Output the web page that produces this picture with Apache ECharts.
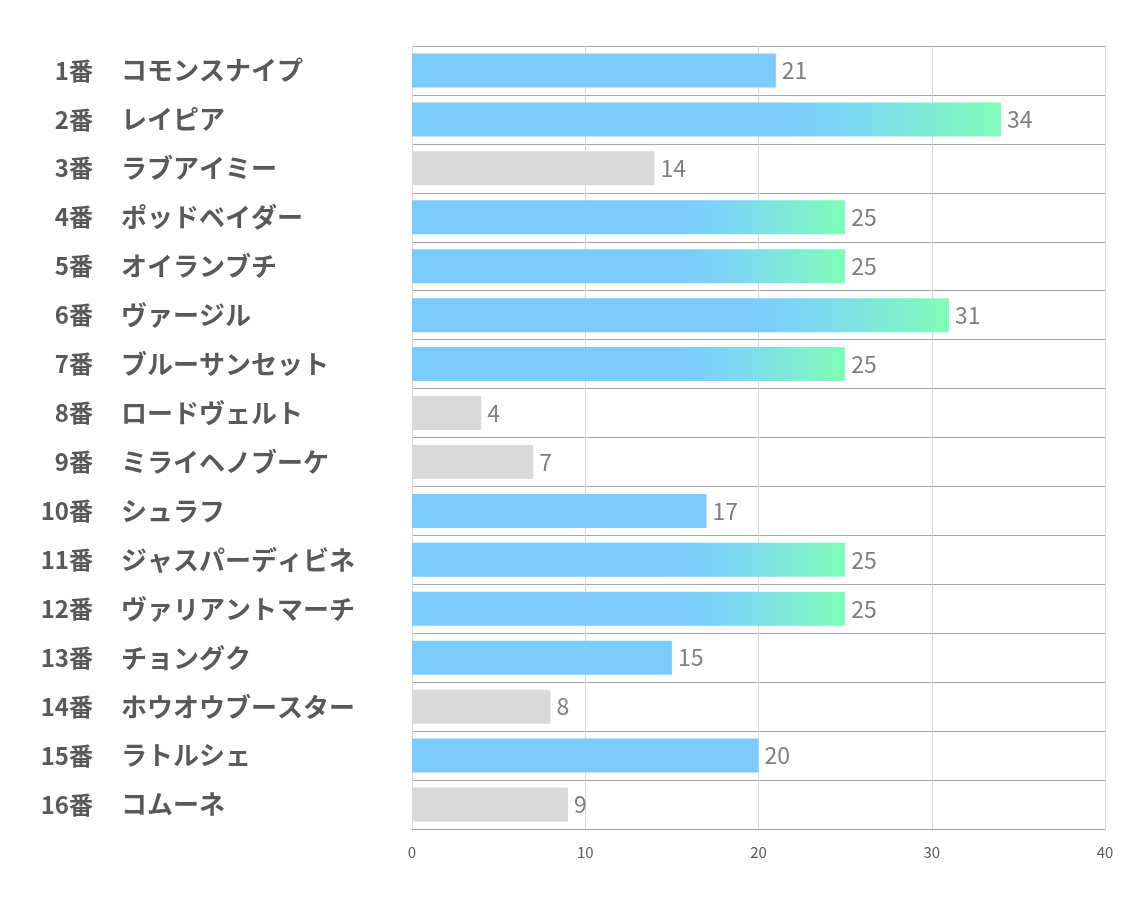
<!DOCTYPE html>
<html>
<head>
<meta charset="utf-8">
<script src="https://cdn.jsdelivr.net/npm/echarts@6/dist/echarts.min.js"></script>
<style>
html,body{margin:0;padding:0;background:#fff;}
#main{width:1134px;height:907px;}
</style>
</head>
<body>
<div id="main"></div>
<script>
const gateNumbers = ['1番','2番','3番','4番','5番','6番','7番','8番','9番','10番','11番','12番','13番','14番','15番','16番'];
const horseNames = ['コモンスナイプ','レイピア','ラブアイミー','ポッドベイダー','オイランブチ','ヴァージル','ブルーサンセット','ロードヴェルト','ミライヘノブーケ','シュラフ','ジャスパーディビネ','ヴァリアントマーチ','チョングク','ホウオウブースター','ラトルシェ','コムーネ'];
const scores = [21,34,14,25,25,31,25,4,7,17,25,25,15,8,20,9];
// group: 'top' = highlighted, 'mid' = normal, 'low' = excluded
const groups = ['mid','top','low','top','top','top','top','low','low','mid','top','top','mid','low','mid','low'];
const xTicks = [0,10,20,30,40];

const chart = echarts.init(document.getElementById('main'), null, {renderer:'canvas'});
const BLUE = '#7BCBFD';
const GRAY = '#D9D9D9';
function colorFor(g){
  if (g === 'low') return GRAY;
  if (g === 'top') return new echarts.graphic.LinearGradient(0,0,1,0,[
    {offset:0,color:BLUE},{offset:0.62,color:BLUE},{offset:0.76,color:'#7DD9F0'},{offset:1,color:'#80FDB9'}]);
  return BLUE;
}
const data = scores.map((v,i)=>({value:v,itemStyle:{color:colorFor(groups[i])}}));
const FONT = '"Noto Sans CJK JP", "Noto Sans", sans-serif';

chart.setOption({
  animation:false,
  backgroundColor:'#fff',
  grid:{left:412,right:29,top:46,bottom:78,containLabel:false},
  xAxis:{
    type:'value',min:xTicks[0],max:xTicks[xTicks.length-1],interval:10,
    axisLine:{show:true,lineStyle:{color:'#A6A6A6',width:1}},axisTick:{show:false},
    splitLine:{show:true,lineStyle:{color:'#D9D9D9',width:1}},
    axisLabel:{color:'#595959',fontSize:15,margin:16,fontFamily:FONT}
  },
  yAxis:[{
    type:'category',inverse:true,data:horseNames,boundaryGap:true,
    axisLine:{show:false},axisTick:{show:false},
    splitLine:{show:true,lineStyle:{color:'#A6A6A6',width:1}},
    axisLabel:{align:'left',margin:291,color:'#595959',fontSize:26,fontWeight:'bold',fontFamily:FONT}
  },{
    type:'category',inverse:true,data:gateNumbers,boundaryGap:true,position:'left',
    axisLine:{show:false},axisTick:{show:false},splitLine:{show:false},
    axisLabel:{align:'right',margin:319,color:'#595959',fontSize:24,fontWeight:'bold',fontFamily:FONT}
  }],
  series:[{
    type:'bar',yAxisIndex:0,data:data,barWidth:34,
    label:{show:true,position:'right',distance:6,color:'#7F7F7F',fontSize:23,fontFamily:FONT}
  }]
});
</script>
</body>
</html>
